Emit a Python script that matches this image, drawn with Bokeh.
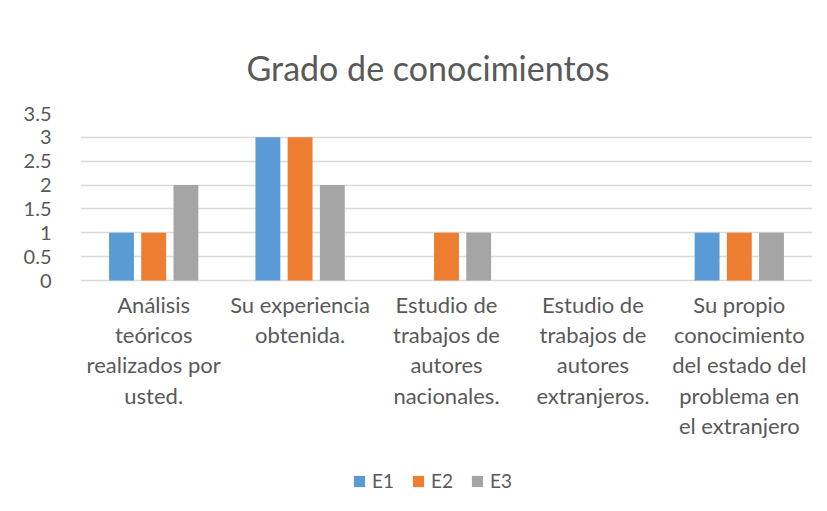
from bokeh.plotting import figure
from bokeh.models import ColumnDataSource, FactorRange, Range1d, FixedTicker, Legend, LegendItem
from bokeh.core.properties import value
from bokeh.transform import dodge
from bokeh.embed import file_html
from bokeh.resources import INLINE

categories = [
    "Análisis\nteóricos\nrealizados por\nusted.",
    "Su experiencia\nobtenida.",
    "Estudio de\ntrabajos de\nautores\nnacionales.",
    "Estudio de\ntrabajos de\nautores\nextranjeros.",
    "Su propio\nconocimiento\ndel estado del\nproblema en\nel extranjero",
]
e1 = [1, 3, 0, 0, 1]
e2 = [1, 3, 1, 0, 1]
e3 = [2, 2, 1, 0, 1]
series_names = ["E1", "E2", "E3"]
colors = ["#5B9BD5", "#ED7D31", "#A5A5A5"]
y_ticks = [0, 0.5, 1, 1.5, 2, 2.5, 3, 3.5]
title_text = "Grado de conocimientos"

FONT = "Lato"
TXT = "#595959"
GRID = "#D9D9D9"
LABEL_TOP = -0.22         # category labels hang just below the zero line
Y_BOTTOM = -4.82          # extra room below zero for labels and legend

src = ColumnDataSource(dict(cat=categories, E1=e1, E2=e2, E3=e3,
                            label_y=[LABEL_TOP] * len(categories)))

p = figure(
    frame_width=732, frame_height=397,
    x_range=FactorRange(*categories, range_padding=0),
    y_range=Range1d(Y_BOTTOM, 3.5),
    x_axis_location=None,
    output_backend="svg", toolbar_location=None,
    min_border_left=80, min_border_right=10, min_border_top=113, min_border_bottom=0,
    title=title_text,
)

p.title.align = "left"
p.title.text_font = FONT
p.title.text_font_size = "34px"
p.title.text_font_style = "normal"
p.title.text_color = TXT
p.title.offset = 166
p.title.standoff = 51

offsets = [-0.22, 0.0, 0.22]
renderers = []
for name, col, off in zip(series_names, colors, offsets):
    r = p.vbar(x=dodge("cat", off, range=p.x_range), top=name, bottom=0, width=0.17,
               source=src, fill_color=col, line_color=None)
    renderers.append(r)

p.text(x="cat", y="label_y", text="cat", source=src,
       text_font=value(FONT), text_font_size="22px", text_color=TXT,
       text_align="center", text_baseline="top", text_line_height=1.12)

p.outline_line_color = None
p.xgrid.grid_line_color = None
p.ygrid.grid_line_color = GRID
p.ygrid.grid_line_width = 1.3
p.ygrid.ticker = FixedTicker(ticks=y_ticks)

p.yaxis.ticker = FixedTicker(ticks=y_ticks)
p.yaxis.major_label_overrides = {v: f"{v:g}" for v in y_ticks}
p.yaxis.axis_line_color = None
p.yaxis.major_tick_line_color = None
p.yaxis.minor_tick_line_color = None
p.yaxis.major_label_text_font = FONT
p.yaxis.major_label_text_font_size = "20px"
p.yaxis.major_label_text_color = TXT
p.yaxis.major_label_standoff = 23

legend = Legend(
    items=[LegendItem(label=n, renderers=[r]) for n, r in zip(series_names, renderers)],
    orientation="horizontal", location=(272, 18),
    label_text_font=FONT, label_text_font_size="19px", label_text_color=TXT,
    glyph_width=14, glyph_height=14, spacing=17, label_standoff=6,
    border_line_color=None, background_fill_alpha=0, margin=0, padding=0,
)
p.add_layout(legend, "center")

open("out.html", "w").write(file_html(p, INLINE))
